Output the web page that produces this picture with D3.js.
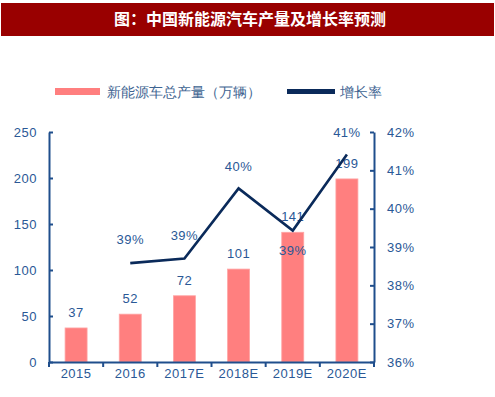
<!DOCTYPE html>
<html>
<head>
<meta charset="utf-8">
<script src="https://cdn.jsdelivr.net/npm/d3@7"></script>
<style>
  body { margin: 0; background: #fff; }
  text { font-family: "Liberation Sans", Arial, sans-serif; }
</style>
</head>
<body>
<div id="canvas"></div>
<script>
const years = ["2015", "2016", "2017E", "2018E", "2019E", "2020E"];
const output = [37, 52, 72, 101, 141, 199];
const growth = [null, 38.58, 38.7, 40.53, 39.43, 41.41];
const growthLabels = [null, "39%", "39%", "40%", "39%", "41%"];
const leftTicks = [0, 50, 100, 150, 200, 250];
const rightTicks = [36, 37, 38, 39, 40, 41, 42];

const width = 495;
const height = 397;
const margin = { top: 132, left: 49, bottom: 35, right: 121 };
const iwidth = width - margin.left - margin.right;
const iheight = height - margin.top - margin.bottom;

const axisColor = "#1F4E8C";
const textColor = "#2A5896";

const svg = d3.select("#canvas").append("svg")
  .attr("width", width)
  .attr("height", height);

// title bar
svg.append("rect")
  .attr("x", 1).attr("y", 3)
  .attr("width", 493).attr("height", 33)
  .attr("fill", "#990000");
svg.append("text")
  .attr("x", 250).attr("y", 25)
  .attr("text-anchor", "middle")
  .attr("fill", "#fff")
  .style("font-family", "'Noto Sans CJK SC', sans-serif")
  .style("font-weight", "bold")
  .style("font-size", "16px")
  .text("图：中国新能源汽车产量及增长率预测");

// legend
const legend = svg.append("g").style("font-family", "'Noto Sans CJK SC', sans-serif");
legend.append("rect").attr("x", 55).attr("y", 88).attr("width", 45).attr("height", 7).attr("fill", "#FF7F7F");
legend.append("text").attr("x", 107).attr("y", 96.5).attr("fill", "#3E6491")
  .style("font-size", "13.5px").text("新能源车总产量（万辆）");
legend.append("rect").attr("x", 287).attr("y", 89).attr("width", 48).attr("height", 5).attr("fill", "#0A2A5A");
legend.append("text").attr("x", 340).attr("y", 96.5).attr("fill", "#3E6491")
  .style("font-size", "13.5px").text("增长率");

const g = svg.append("g")
  .attr("transform", `translate(${margin.left},${margin.top})`);

const x = d3.scaleBand().domain(years).range([0, iwidth]);
const y = d3.scaleLinear().domain([0, 250]).range([iheight, 0]);
const y2 = d3.scaleLinear().domain([36, 42]).range([iheight, 0]);

// bars
g.selectAll(".bar").data(output).enter().append("rect")
  .attr("class", "bar")
  .attr("x", (d, i) => x(years[i]) + x.bandwidth() / 2 - 11)
  .attr("y", d => y(d))
  .attr("width", 22)
  .attr("height", d => iheight - y(d))
  .attr("fill", "#FF7F7F")
  .attr("stroke", "#FFA5A5")
  .attr("stroke-width", 0.8);

// bar labels
g.selectAll(".blabel").data(output).enter().append("text")
  .attr("class", "blabel")
  .attr("x", (d, i) => x(years[i]) + x.bandwidth() / 2)
  .attr("y", d => y(d) - 11)
  .attr("text-anchor", "middle")
  .attr("fill", textColor)
  .style("font-size", "13px")
  .style("letter-spacing", "0.5px")
  .text(d => d);

// line
const pts = years.map((c, i) => ({ c, v: growth[i], l: growthLabels[i] })).filter(d => d.v != null);
const line = d3.line()
  .x(d => x(d.c) + x.bandwidth() / 2)
  .y(d => y2(d.v));
g.append("path")
  .datum(pts)
  .attr("d", line)
  .attr("fill", "none")
  .attr("stroke", "#0A2A5A")
  .attr("stroke-width", 2.6)
  .attr("stroke-linejoin", "miter");

// line labels
const labelOffset = { "2016": -19, "2017E": -19, "2018E": -17, "2019E": 24, "2020E": -18 };
g.selectAll(".llabel").data(pts).enter().append("text")
  .attr("class", "llabel")
  .attr("x", d => x(d.c) + x.bandwidth() / 2)
  .attr("y", d => y2(d.v) + labelOffset[d.c])
  .attr("text-anchor", "middle")
  .attr("fill", textColor)
  .style("font-size", "13px")
  .style("letter-spacing", "0.5px")
  .text(d => d.l);

// axes
const styleAxis = sel => {
  sel.select(".domain").attr("stroke", axisColor).attr("stroke-width", 2);
  sel.selectAll(".tick line").attr("stroke", axisColor).attr("stroke-width", 2);
  sel.selectAll(".tick text").attr("fill", textColor)
    .style("font-size", "13px").style("letter-spacing", "0.5px")
    .style("font-family", "'Liberation Sans', Arial, sans-serif");
};

g.append("g")
  .call(d3.axisLeft(y).tickValues(leftTicks).tickSize(-4).tickSizeOuter(0).tickPadding(12))
  .call(styleAxis);

g.append("g")
  .attr("transform", `translate(${iwidth},0)`)
  .call(d3.axisRight(y2).tickValues(rightTicks).tickSize(-4).tickSizeOuter(0).tickPadding(13)
    .tickFormat(d => d + "%"))
  .call(styleAxis);

const xAxis = g.append("g")
  .attr("transform", `translate(0,${iheight})`)
  .call(d3.axisBottom(x).tickSize(0).tickPadding(7))
  .call(styleAxis);
// band boundary ticks
xAxis.selectAll(".btick").data(d3.range(years.length + 1)).enter().append("line")
  .attr("class", "btick")
  .attr("x1", i => i * x.step()).attr("x2", i => i * x.step())
  .attr("y1", 0).attr("y2", 5)
  .attr("stroke", axisColor).attr("stroke-width", 2);
</script>
</body>
</html>
